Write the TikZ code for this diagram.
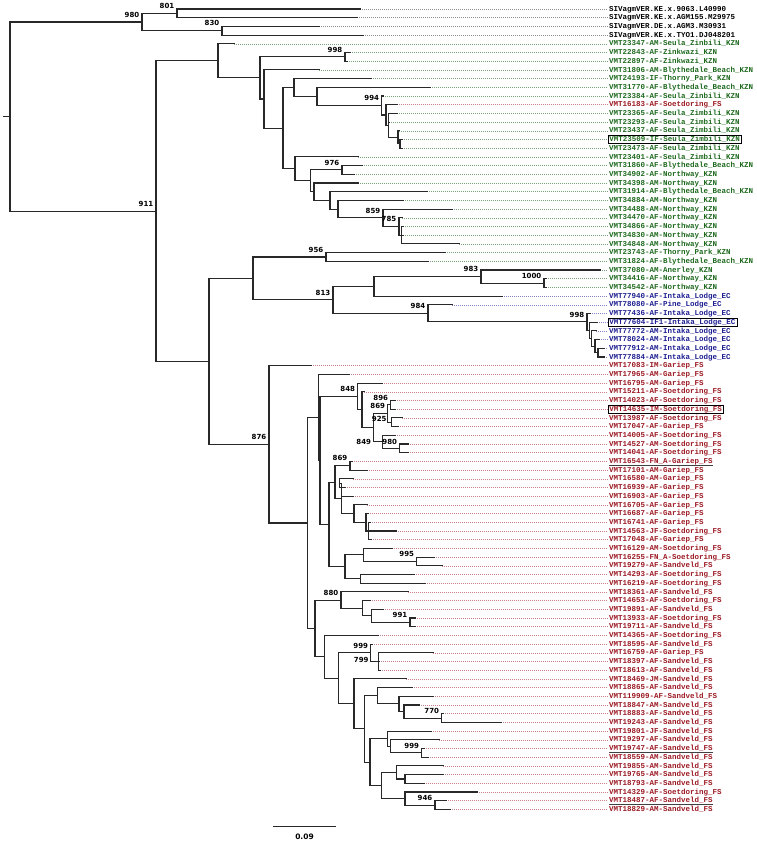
\documentclass[tikz,border=0pt]{standalone}
\usepackage{fontspec}
\setmonofont{Liberation Mono}
\newfontfamily\bootfont{DejaVu Sans}
\usetikzlibrary{calc}
\definecolor{kzngreen}{RGB}{30,105,30}
\definecolor{fsred}{RGB}{155,25,35}
\definecolor{ecblue}{RGB}{30,30,145}
\definecolor{branchgray}{RGB}{40,40,40}
\tikzstyle{branch} = [draw=branchgray, line width=1.1pt, line cap=rect, line join=miter]
\tikzstyle{tiplabel} = [anchor=west, inner xsep=1.5pt, inner ysep=0.8pt, text height=5.5pt, text depth=1.2pt, font=\ttfamily\bfseries\fontsize{7.5}{8}\selectfont]
\tikzstyle{siv} = [tiplabel, text=black]
\tikzstyle{kzn} = [tiplabel, text=kzngreen]
\tikzstyle{fs} = [tiplabel, text=fsred]
\tikzstyle{ec} = [tiplabel, text=ecblue]
\tikzstyle{tipdots} = [line width=0.5pt, dash pattern=on 0.7pt off 1.3pt]
\tikzstyle{dsiv} = [tipdots, draw=black!45]
\tikzstyle{dkzn} = [tipdots, draw=kzngreen!60]
\tikzstyle{dfs} = [tipdots, draw=fsred!55]
\tikzstyle{dec} = [tipdots, draw=ecblue!55]
\tikzstyle{boxed} = [draw=black, line width=0.8pt]
\tikzstyle{uline} = [draw=black!75, line width=0.8pt]
\tikzstyle{boot} = [anchor=south east, inner sep=0.5pt, xshift=-2pt, yshift=4pt, font=\bootfont\bfseries\fontsize{7}{8}\selectfont]
\tikzstyle{bootl} = [anchor=east, inner sep=0.5pt, font=\bootfont\bfseries\fontsize{7}{8}\selectfont]

% leaf: [extra]{index}{tip x}{text}{group}
\newcommand{\leaf}[5][]{%
  \coordinate (l#2) at (#3, {9+(#2-1)*8.7});
  \node[#5, #1] (t#2) at (607.5, {9+(#2-1)*8.7}) {#4};
  \draw[d#5] (l#2) -- (t#2.west);
}
% clade: {name}{x}{first child}{last child}
\newcommand{\clade}[4]{%
  \coordinate (#1m) at ($(#3)!.5!(#4)$);
  \coordinate (#1) at (#2,0 |- #1m);
  \draw[branch] (#3) -- (#1 |- #3) -- (#1 |- #4) -- (#4);
}

\begin{document}
\begin{tikzpicture}[x=1pt, y=-1pt]
\useasboundingbox (0,0) rectangle (756,845);

%leaves
\leaf{1}{360}{SIVagmVER.KE.x.9063.L40990}{siv}
\leaf{2}{357}{SIVagmVER.KE.x.AGM155.M29975}{siv}
\leaf{3}{319}{SIVagmVER.DE.x.AGM3.M30931}{siv}
\leaf{4}{363}{SIVagmVER.KE.x.TYO1.DJ048201}{siv}
\leaf{5}{234}{VMT23347-AM-Seula\_Zinbili\_KZN}{kzn}
\leaf{6}{350}{VMT22843-AF-Zinkwazi\_KZN}{kzn}
\leaf{7}{347}{VMT22897-AF-Zinkwazi\_KZN}{kzn}
\leaf{8}{319}{VMT31806-AM-Blythedale\_Beach\_KZN}{kzn}
\leaf{9}{371}{VMT24193-IF-Thorny\_Park\_KZN}{kzn}
\leaf{10}{430}{VMT31770-AF-Blythedale\_Beach\_KZN}{kzn}
\leaf{11}{383}{VMT23384-AF-Seula\_Zinbili\_KZN}{kzn}
\leaf{12}{397}{VMT16183-AF-Soetdoring\_FS}{fs}
\leaf{13}{397}{VMT23365-AF-Seula\_Zimbili\_KZN}{kzn}
\leaf{14}{389}{VMT23293-AF-Seula\_Zimbili\_KZN}{kzn}
\leaf{15}{399}{VMT23437-AF-Seula\_Zimbili\_KZN}{kzn}
\leaf[boxed]{16}{402}{VMT23509-IF-Seula\_Zimbili\_KZN}{kzn}
\leaf{17}{402}{VMT23473-AF-Seula\_Zimbili\_KZN}{kzn}
\leaf{18}{358}{VMT23401-AF-Seula\_Zimbili\_KZN}{kzn}
\leaf{19}{362}{VMT31860-AF-Blythedale\_Beach\_KZN}{kzn}
\leaf{20}{354}{VMT34902-AF-Northway\_KZN}{kzn}
\leaf{21}{358}{VMT34398-AM-Northway\_KZN}{kzn}
\leaf{22}{427}{VMT31914-AF-Blythedale\_Beach\_KZN}{kzn}
\leaf{23}{403}{VMT34884-AM-Northway\_KZN}{kzn}
\leaf{24}{452}{VMT34488-AM-Northway\_KZN}{kzn}
\leaf{25}{402}{VMT34470-AF-Northway\_KZN}{kzn}
\leaf{26}{403}{VMT34866-AF-Northway\_KZN}{kzn}
\leaf{27}{403}{VMT34830-AM-Northway\_KZN}{kzn}
\leaf{28}{459}{VMT34848-AM-Northway\_KZN}{kzn}
\leaf{29}{445}{VMT23743-AF-Thorny\_Park\_KZN}{kzn}
\leaf{30}{428}{VMT31824-AF-Blythedale\_Beach\_KZN}{kzn}
\leaf{31}{600}{VMT37080-AM-Anerley\_KZN}{kzn}
\leaf{32}{546}{VMT34416-AF-Northway\_KZN}{kzn}
\leaf{33}{546}{VMT34542-AF-Northway\_KZN}{kzn}
\leaf{34}{502}{VMT77940-AF-Intaka\_Lodge\_EC}{ec}
\leaf{35}{452}{VMT78080-AF-Pine\_Lodge\_EC}{ec}
\leaf{36}{590}{VMT77436-AF-Intaka\_Lodge\_EC}{ec}
\leaf[boxed]{37}{597}{VMT77604-IF1-Intaka\_Lodge\_EC}{ec}
\leaf{38}{596}{VMT77772-AM-Intaka\_Lodge\_EC}{ec}
\leaf{39}{599}{VMT78024-AM-Intaka\_Lodge\_EC}{ec}
\leaf{40}{604}{VMT77912-AM-Intaka\_Lodge\_EC}{ec}
\leaf{41}{604}{VMT77884-AM-Intaka\_Lodge\_EC}{ec}
\leaf{42}{311}{VMT17083-IM-Gariep\_FS}{fs}
\leaf{43}{349}{VMT17965-AM-Gariep\_FS}{fs}
\leaf{44}{382}{VMT16795-AM-Gariep\_FS}{fs}
\leaf{45}{364}{VMT15211-AF-Soetdoring\_FS}{fs}
\leaf{46}{395}{VMT14023-AF-Soetdoring\_FS}{fs}
\leaf[boxed]{47}{395}{VMT14635-IM-Soetdoring\_FS}{fs}
\leaf{48}{402}{VMT13987-AF-Soetdoring\_FS}{fs}
\leaf{49}{398}{VMT17047-AF-Gariep\_FS}{fs}
\leaf{50}{395}{VMT14005-AF-Soetdoring\_FS}{fs}
\leaf{51}{408}{VMT14527-AM-Soetdoring\_FS}{fs}
\leaf{52}{408}{VMT14041-AF-Soetdoring\_FS}{fs}
\leaf{53}{352}{VMT16543-FN\_A-Gariep\_FS}{fs}
\leaf{54}{367}{VMT17101-AM-Gariep\_FS}{fs}
\leaf{55}{353}{VMT16580-AM-Gariep\_FS}{fs}
\leaf{56}{345}{VMT16939-AF-Gariep\_FS}{fs}
\leaf{57}{353}{VMT16903-AF-Gariep\_FS}{fs}
\leaf{58}{367}{VMT16705-AF-Gariep\_FS}{fs}
\leaf{59}{368}{VMT16687-AF-Gariep\_FS}{fs}
\leaf{60}{370}{VMT16741-AF-Gariep\_FS}{fs}
\leaf{61}{396}{VMT14563-JF-Soetdoring\_FS}{fs}
\leaf{62}{371}{VMT17048-AF-Gariep\_FS}{fs}
\leaf{63}{392}{VMT16129-AM-Soetdoring\_FS}{fs}
\leaf{64}{434}{VMT16255-FN\_A-Soetdoring\_FS}{fs}
\leaf{65}{442}{VMT19279-AF-Sandveld\_FS}{fs}
\leaf{66}{414}{VMT14293-AF-Soetdoring\_FS}{fs}
\leaf{67}{425}{VMT16219-AF-Soetdoring\_FS}{fs}
\leaf{68}{408}{VMT18361-AF-Sandveld\_FS}{fs}
\leaf{69}{370}{VMT14653-AF-Soetdoring\_FS}{fs}
\leaf{70}{383}{VMT19891-AF-Sandveld\_FS}{fs}
\leaf{71}{415}{VMT13933-AF-Soetdoring\_FS}{fs}
\leaf{72}{415}{VMT19711-AF-Sandveld\_FS}{fs}
\leaf{73}{378}{VMT14365-AF-Soetdoring\_FS}{fs}
\leaf{74}{372}{VMT18595-AF-Sandveld\_FS}{fs}
\leaf{75}{433}{VMT16759-AF-Gariep\_FS}{fs}
\leaf{76}{379}{VMT18397-AF-Sandveld\_FS}{fs}
\leaf{77}{380}{VMT18613-AF-Sandveld\_FS}{fs}
\leaf{78}{406}{VMT18469-JM-Sandveld\_FS}{fs}
\leaf{79}{412}{VMT18865-AF-Sandveld\_FS}{fs}
\leaf{80}{433}{VMT119909-AF-Sandveld\_FS}{fs}
\leaf{81}{419}{VMT18847-AM-Sandveld\_FS}{fs}
\leaf{82}{443}{VMT18883-AF-Sandveld\_FS}{fs}
\leaf{83}{501}{VMT19243-AF-Sandveld\_FS}{fs}
\leaf{84}{431}{VMT19801-JF-Sandveld\_FS}{fs}
\leaf{85}{439}{VMT19297-AF-Sandveld\_FS}{fs}
\leaf{86}{424}{VMT19747-AF-Sandveld\_FS}{fs}
\leaf{87}{428}{VMT18559-AM-Sandveld\_FS}{fs}
\leaf{88}{443}{VMT19855-AM-Sandveld\_FS}{fs}
\leaf{89}{443}{VMT19765-AM-Sandveld\_FS}{fs}
\leaf{90}{424}{VMT18793-AF-Sandveld\_FS}{fs}
\leaf{91}{477}{VMT14329-AF-Soetdoring\_FS}{fs}
\leaf{92}{446}{VMT18487-AF-Sandveld\_FS}{fs}
\leaf{93}{450}{VMT18829-AM-Sandveld\_FS}{fs}

% underlined tips
\draw[uline] ([xshift=1.5pt,yshift=0.6pt]t53.south west) -- ([xshift=-1.5pt,yshift=0.6pt]t53.south east);
\draw[uline] ([xshift=1.5pt,yshift=0.6pt]t86.south west) -- ([xshift=-1.5pt,yshift=0.6pt]t86.south east);
\draw[uline] ([xshift=1.5pt,yshift=0.6pt]t92.south west) -- ([xshift=-1.5pt,yshift=0.6pt]t92.south east);

%outgroup
\clade{c801}{177}{l1}{l2}
\clade{c830}{222}{l3}{l4}
\clade{c980}{142}{c801}{c830}

%KZN clade
\clade{c998a}{345}{l6}{l7}
\clade{nF}{400}{l16}{l17}
\clade{nE}{398}{l15}{nF}
\clade{nC}{388.3}{l13}{nE}
\draw[branch] (nC |- l14) -- (l14);
\clade{nB}{386}{l12}{nC}
\clade{c994}{381.7}{l11}{nB}
\clade{n317}{317}{l10}{c994}
\clade{n294}{294}{l9}{n317}
\clade{n401}{401.7}{l26}{l28}
\draw[branch] (n401 |- l27) -- (l27);
\clade{c785}{399}{l25}{n401}
\clade{c859}{383}{l24}{c785}
\clade{n338}{338}{l23}{c859}
\clade{n330}{330}{l22}{n338}
\clade{n314}{314}{l21}{n330}
\clade{c976}{342}{l19}{l20}
\clade{n310}{310.5}{c976}{n314}
\clade{n295}{295}{l18}{n310}
\clade{n283}{283}{n294}{n295}
\clade{n264}{264}{l8}{n283}
\clade{n260}{260}{c998a}{n264}
\clade{n218}{218}{l5}{n260}

%KZN + EC clade
\clade{c956}{326}{l29}{l30}
\clade{c1000}{544}{l32}{l33}
\clade{c983}{481}{l31}{c1000}
\clade{n374}{374}{c983}{l34}
\clade{nJ}{598}{l40}{l41}
\clade{nI}{595}{l39}{nJ}
\clade{nH}{591.7}{l38}{nI}
\clade{nG}{589.3}{l37}{nH}
\clade{c998b}{587}{l36}{nG}
\clade{c984}{428}{l35}{c998b}
\clade{c813}{333}{n374}{c984}
\clade{n253}{253}{c956}{c813}

%FS clade
\clade{c896}{390.7}{l46}{l47}
\clade{c925}{391.3}{l48}{l49}
\clade{c869a}{387.7}{c896}{c925}
\clade{nQ}{399.3}{l51}{l52}
\clade{c980b}{382.7}{l50}{nQ}
\clade{c849}{373.3}{c869a}{c980b}
\clade{n362}{362}{l45}{c849}
\clade{c848}{357.7}{l44}{n362}
\clade{c869b}{350}{l53}{l54}
\clade{nS}{339.3}{l55}{l56}
\clade{nW}{368.3}{l60}{l62}
\draw[branch] (nW |- l61) -- (l61);
\clade{nV}{366}{l59}{nW}
\clade{nU}{354}{l58}{nV}
\clade{nT}{341.7}{nS}{nU}
\draw[branch] (nT |- l57) -- (l57);
\clade{nR}{335}{c869b}{nT}
\clade{c995}{416.7}{l64}{l65}
\clade{nZ}{363.3}{l63}{c995}
\clade{n360}{360.7}{l66}{l67}
\clade{nY}{345}{nZ}{n360}
\clade{nP}{329}{nR}{nY}
\clade{nL2}{320}{c848}{nP}
\clade{nL1}{318.3}{l43}{nL2}
\clade{c991}{410}{l71}{l72}
\clade{n371}{371.7}{l70}{c991}
\clade{n362b}{362.7}{l69}{n371}
\clade{c880}{341}{l68}{n362b}
\clade{c799}{378.3}{l75}{l77}
\draw[branch] (c799 |- l76) -- (l76);
\clade{c999a}{370.7}{l74}{c799}
\clade{c770}{441.7}{l82}{l83}
\clade{nAH}{404}{l81}{c770}
\clade{nAG}{399}{l80}{nAH}
\clade{nAF}{377.3}{l79}{nAG}
\clade{c999b}{421.7}{l86}{l87}
\clade{nAK}{390.7}{l85}{c999b}
\clade{nAJ}{387.3}{l84}{nAK}
\clade{nAN}{405}{l89}{l90}
\clade{nAM}{396.7}{l88}{nAN}
\clade{c946}{435}{l92}{l93}
\clade{nAO}{405}{l91}{c946}
\clade{nAL}{381.7}{nAM}{nAO}
\clade{nAI}{370}{nAJ}{nAL}
\clade{nAE}{364.3}{nAF}{nAI}
\clade{nAD}{354}{l78}{nAE}
\clade{nAC}{338.3}{c999a}{nAD}
\clade{nAB}{324.3}{l73}{nAC}
\clade{nAA}{315}{c880}{nAB}
\clade{nK}{307.7}{nL1}{nAA}
\clade{c876}{269}{l42}{nK}

%backbone
\clade{nN1}{209}{n253}{c876}
\clade{c911}{156}{n218}{nN1}
\clade{root}{10}{c980}{c911}
\coordinate (stub) at (4,0 |- root);
\draw[branch] (stub) -- (root);

%bootstrap values
\node[boot] at (c980) {980};
\node[boot] at (c801) {801};
\node[boot] at (c830) {830};
\node[boot] at (c911) {911};
\node[boot] at (c998a) {998};
\node[boot] at (c994) {994};
\node[boot] at (c976) {976};
\node[boot] at (c859) {859};
\node[boot] at (c785) {785};
\node[boot] at (c956) {956};
\node[boot] at (c983) {983};
\node[boot] at (c1000) {1000};
\node[boot] at (c813) {813};
\node[boot] at (c984) {984};
\node[boot] at (c998b) {998};
\node[boot] at (c876) {876};
\node[boot] at (c848) {848};
\node[boot] at (c896) {896};
\node[boot] at (c869a) {869};
\node[bootl] at ([xshift=-4pt,yshift=3pt]c925) {925};
\node[bootl] at ([xshift=-1.5pt]c849 |- c980b) {849};
\node[bootl] at ([xshift=-1.5pt]nQ |- c980b) {980};
\node[boot] at (c869b) {869};
\node[boot] at (c995) {995};
\node[boot] at (c880) {880};
\node[boot] at (c991) {991};
\node[boot] at (c999a) {999};
\node[bootl] at ([xshift=-1.5pt,yshift=2pt]c999a |- c799) {799};
\node[boot] at (c770) {770};
\node[boot] at (c999b) {999};
\node[boot] at (c946) {946};

%scale bar
\coordinate (sbl) at (273.3,826.7);
\coordinate (sbr) at (335.7,826.7);
\draw[branch] (sbl) -- (sbr);
\node[below=7pt, inner sep=0.5pt, font=\bootfont\bfseries\fontsize{7.5}{8}\selectfont] (sbval) at ($(sbl)!.5!(sbr)$) {0.09};

\end{tikzpicture}
\end{document}
